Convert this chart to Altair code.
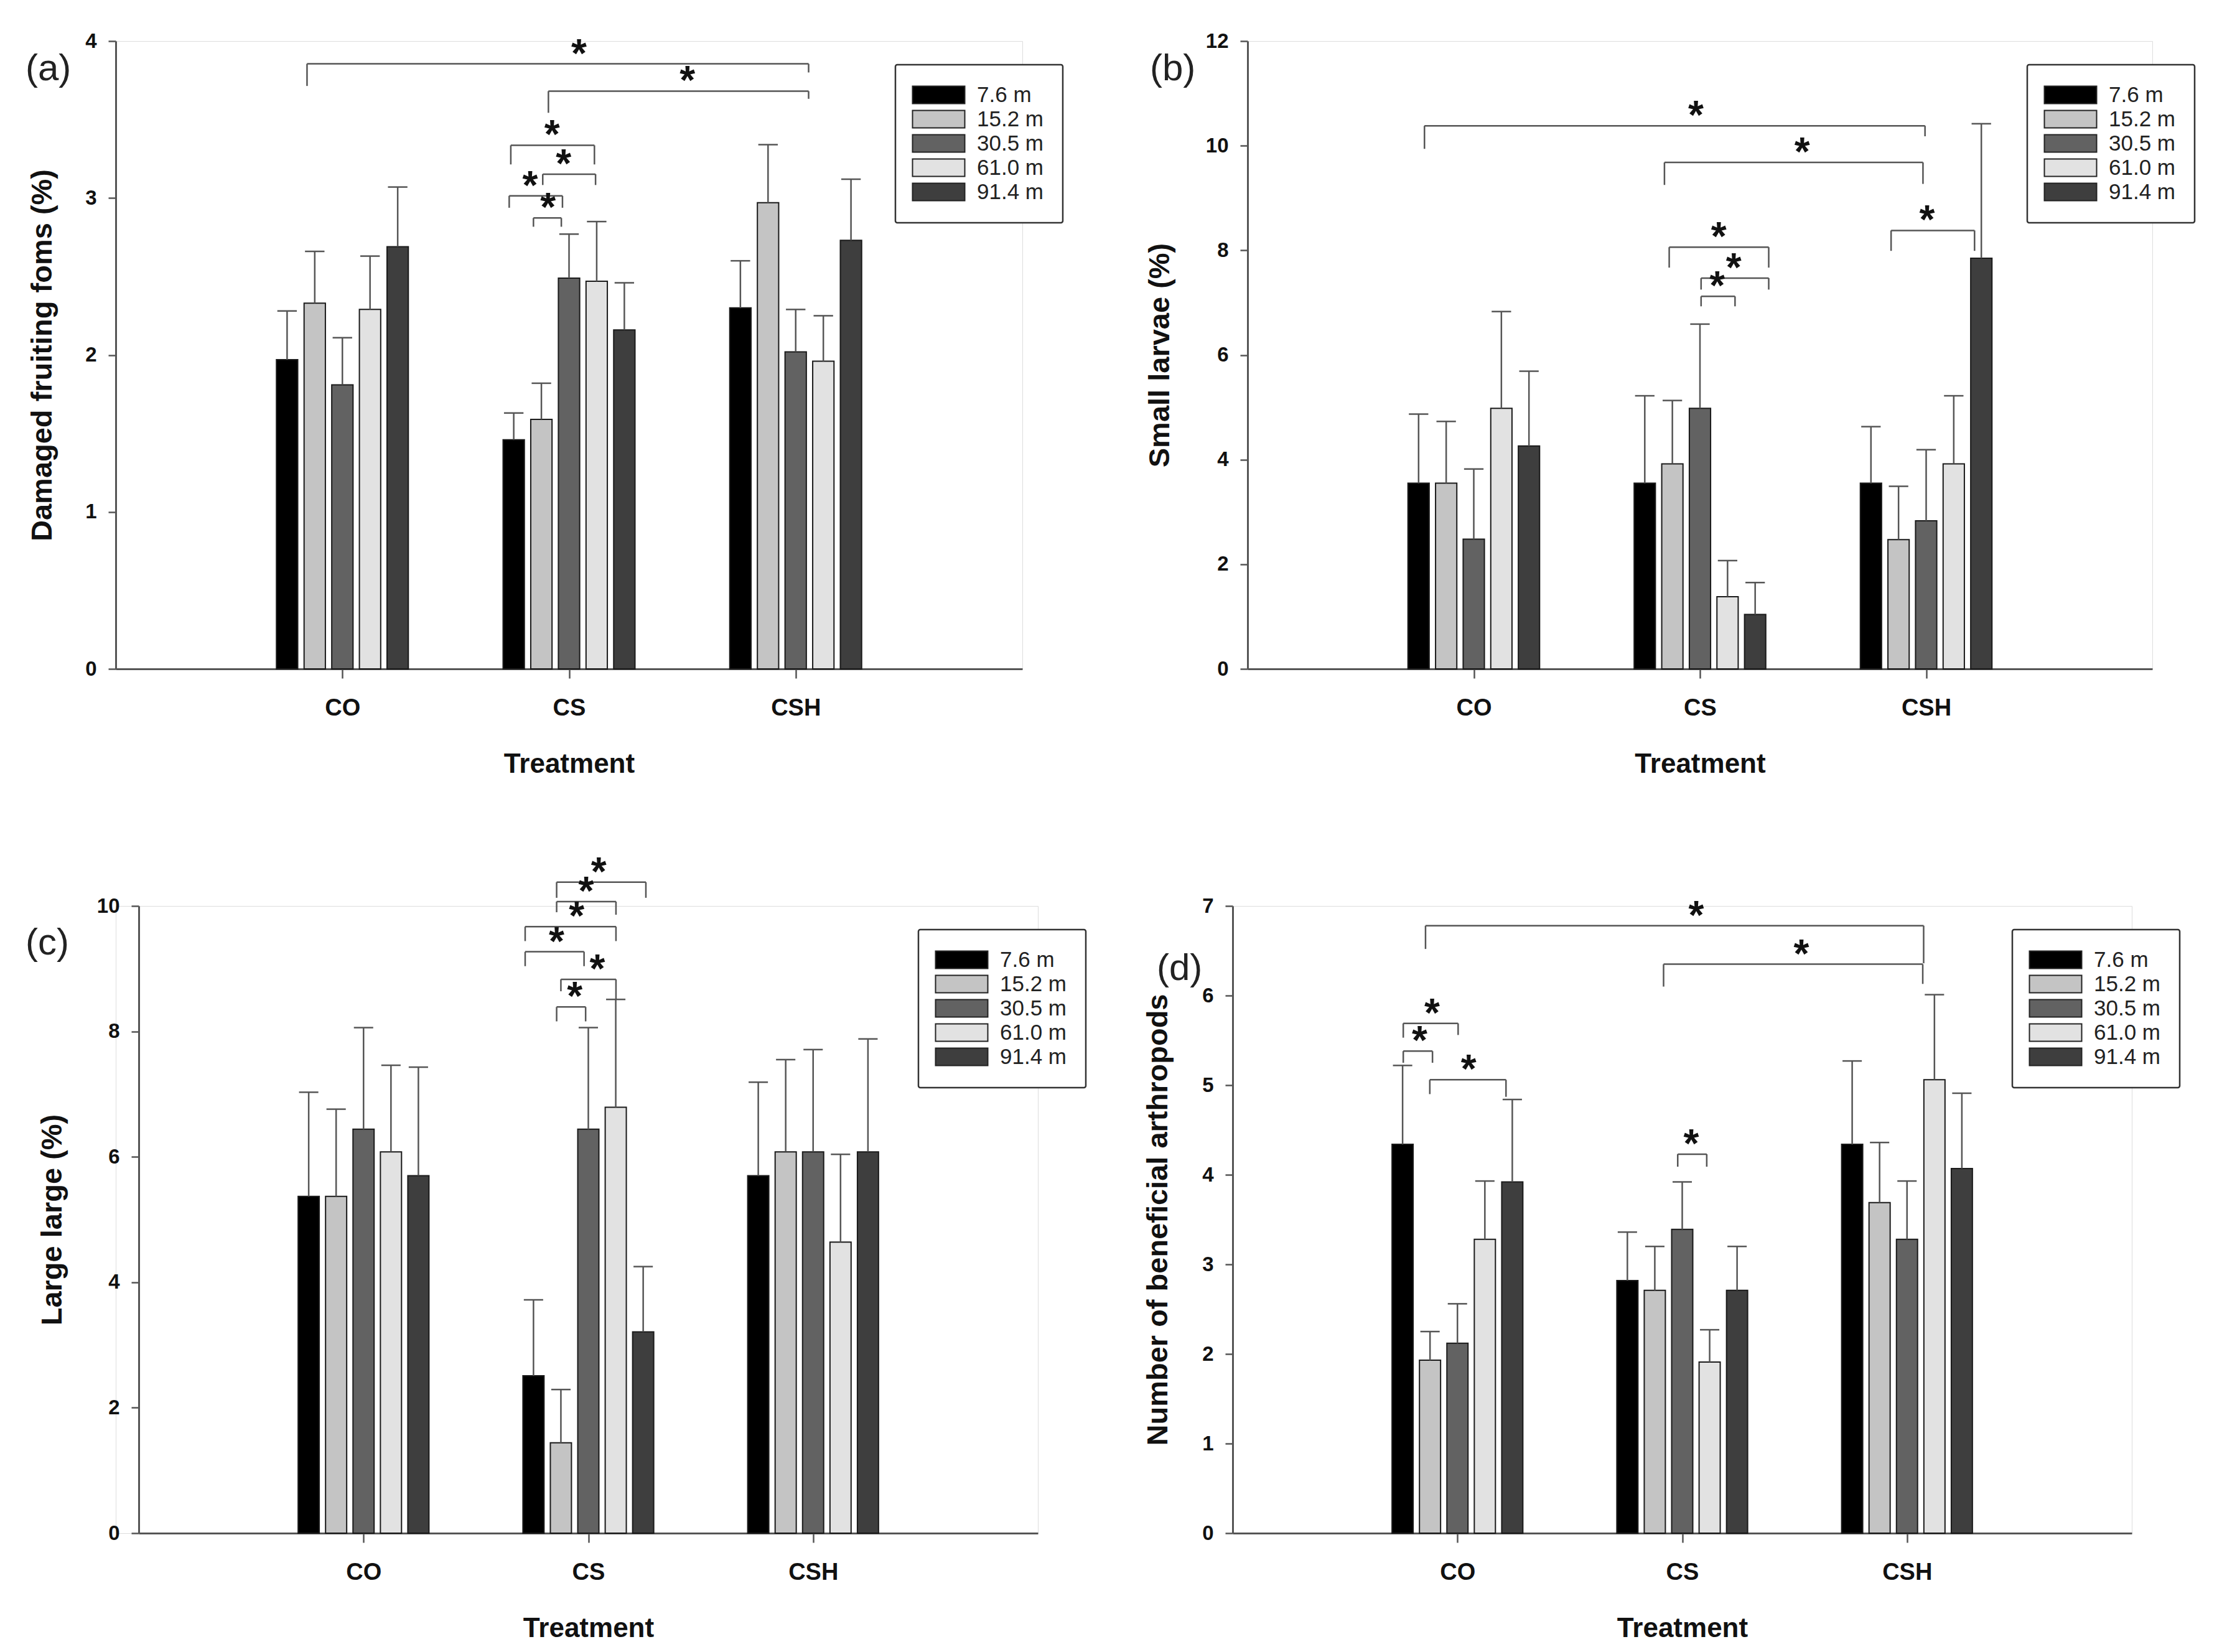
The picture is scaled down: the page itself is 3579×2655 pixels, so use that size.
import altair as alt
import pandas as pd

FONT = "Liberation Sans"
AXC = "#555555"

TREATMENTS = ["CO", "CS", "CSH"]
DISTANCES = ["7.6 m", "15.2 m", "30.5 m", "61.0 m", "91.4 m"]
FILLS = ["#000000", "#c4c4c4", "#626262", "#e2e2e2", "#3e3e3e"]

# (a) Damaged fruiting forms: rows = treatments, columns = distances
A_MEAN = [[1.97, 2.33, 1.81, 2.29, 2.69], [1.46, 1.59, 2.49, 2.47, 2.16], [2.30, 2.97, 2.02, 1.96, 2.73]]
A_UPPER = [[2.28, 2.66, 2.11, 2.63, 3.07], [1.63, 1.82, 2.77, 2.85, 2.46], [2.60, 3.34, 2.29, 2.25, 3.12]]
# brackets: (x left, x right, y, left leg end, right leg end, star x)
A_BRACKETS = [
    (0.844, 3.057, 3.855, 3.714, 3.800, 2.044),
    (1.909, 3.057, 3.681, 3.543, 3.632, 2.522),
    (1.743, 2.112, 3.336, 3.214, 3.214, 1.925),
    (1.884, 2.117, 3.152, 3.083, 3.083, 1.976),
    (1.736, 1.971, 3.014, 2.938, 2.938, 1.828),
    (1.843, 1.966, 2.873, 2.817, 2.817, 1.907),
]

# (b) Small larvae
B_MEAN = [[3.55, 3.55, 2.48, 4.98, 4.26], [3.55, 3.92, 4.98, 1.38, 1.04], [3.55, 2.47, 2.83, 3.92, 7.85]]
B_UPPER = [[4.87, 4.73, 3.82, 6.83, 5.69], [5.22, 5.13, 6.59, 2.07, 1.65], [4.63, 3.49, 4.19, 5.22, 10.42]]
B_BRACKETS = [
    (0.782, 2.995, 10.38, 9.94, 10.18, 1.982),
    (1.843, 2.986, 9.68, 9.25, 9.27, 2.452),
    (1.864, 2.304, 8.06, 7.67, 7.67, 2.083),
    (2.005, 2.304, 7.47, 7.25, 7.25, 2.149),
    (2.005, 2.155, 7.12, 6.93, 6.93, 2.076),
    (2.845, 3.214, 8.38, 7.99, 7.99, 3.004),
]

# (c) Large larvae
C_MEAN = [[5.37, 5.37, 6.44, 6.08, 5.70], [2.51, 1.44, 6.44, 6.79, 3.21], [5.70, 6.08, 6.08, 4.64, 6.08]]
C_UPPER = [[7.03, 6.76, 8.06, 7.46, 7.43], [3.72, 2.29, 8.06, 8.51, 4.25], [7.19, 7.55, 7.71, 6.04, 7.88]]
C_BRACKETS = [
    (1.859, 2.256, 10.38, 10.13, 10.13, 2.046),
    (1.859, 2.123, 10.07, 9.90, 9.86, 1.990),
    (1.719, 2.123, 9.67, 9.44, 9.44, 1.948),
    (1.719, 1.981, 9.27, 9.04, 9.04, 1.859),
    (1.878, 2.123, 8.83, 8.64, 8.51, 2.040),
    (1.859, 1.988, 8.39, 8.16, 8.16, 1.940),
]

# (d) Beneficial arthropods
D_MEAN = [[4.34, 1.93, 2.12, 3.28, 3.92], [2.82, 2.71, 3.39, 1.91, 2.71], [4.34, 3.69, 3.28, 5.06, 4.07]]
D_UPPER = [[5.22, 2.25, 2.56, 3.93, 4.84], [3.36, 3.20, 3.92, 2.27, 3.20], [5.27, 4.36, 3.93, 6.01, 4.91]]
D_BRACKETS = [
    (0.858, 3.074, 6.78, 6.52, 6.36, 2.062),
    (1.917, 3.070, 6.35, 6.10, 6.13, 2.530),
    (0.759, 1.003, 5.69, 5.53, 5.56, 0.887),
    (0.759, 0.889, 5.38, 5.25, 5.25, 0.832),
    (0.877, 1.216, 5.06, 4.90, 4.87, 1.050),
    (1.980, 2.109, 4.23, 4.09, 4.09, 2.040),
]

BAR_STEP = 0.122
BAR_W = 0.094
CAP_W = 0.086
LABEL_EXPR = "[" + ",".join("'%s'" % t for t in TREATMENTS) + "][datum.value - 1]"


def make_panel(tag, ytitle, ymax, ystep, means, uppers, brackets, width, height,
               ytitle_x, tag_x, tag_y, xoff=0):
    rows = []
    for ti, t in enumerate(TREATMENTS):
        for j, d in enumerate(DISTANCES):
            c = ti + 1 + (j - 2) * BAR_STEP
            rows.append({
                "treatment": t, "distance": d,
                "mean": means[ti][j], "upper": uppers[ti][j],
                "xc": c, "bx0": c - BAR_W / 2, "bx1": c + BAR_W / 2,
                "cx0": c - CAP_W / 2, "cx1": c + CAP_W / 2, "base": 0.0,
            })
    bdf = pd.DataFrame(rows)
    rdf = pd.DataFrame(brackets, columns=["x1", "x2", "y", "leg1", "leg2", "sx"])

    if xoff:
        xs = alt.Scale(domain=[0, 4], nice=False, zero=False, range=[xoff, xoff + width])
    else:
        xs = alt.Scale(domain=[0, 4], nice=False, zero=False)
    ys = alt.Scale(domain=[0, ymax], nice=False, zero=True)

    x_axis = alt.Axis(
        title="Treatment", values=[1, 2, 3], labelExpr=LABEL_EXPR, grid=False,
        tickSize=15, tickWidth=2.5, tickColor=AXC, domainColor=AXC, domainWidth=3,
        labelFont=FONT, labelFontSize=38, labelFontWeight="bold", labelColor="#111111",
        labelPadding=29, labelFlush=False, labelAngle=0,
        titleFont=FONT, titleFontSize=44, titleFontWeight="bold", titleColor="#111111",
        titleX=xoff + width / 2, titleY=166, titleAlign="center", titleBaseline="alphabetic",
    )
    y_axis = alt.Axis(
        title=ytitle, values=list(range(0, ymax + 1, ystep)), grid=False,
        tickSize=12, tickWidth=2.5, tickColor=AXC, domainColor=AXC, domainWidth=3,
        labelFont=FONT, labelFontSize=33, labelFontWeight="bold", labelColor="#111111",
        labelPadding=19, labelFlush=False, labelOverlap=False,
        titleFont=FONT, titleFontSize=47, titleFontWeight="bold", titleColor="#111111",
        titleAngle=270, titleAlign="center", titleBaseline="alphabetic",
        titleX=ytitle_x, titleY=height / 2, offset=-xoff,
    )
    legend = alt.Legend(
        title=None, orient="none", legendX=1253 + xoff, legendY=38, padding=31, rowPadding=2,
        symbolType="M-3,-1H3V1H-3Z", symbolSize=784, symbolStrokeColor="#222222",
        symbolStrokeWidth=2, symbolOffset=21, labelOffset=44,
        labelFont=FONT, labelFontSize=35, labelColor="#222222", labelLimit=0,
        strokeColor="#333333", fillColor="#ffffff", cornerRadius=3,
    )

    def X(field):
        return alt.X(field, type="quantitative", scale=xs, axis=x_axis)

    def Y(field):
        return alt.Y(field, type="quantitative", scale=ys, axis=y_axis)

    bars = alt.Chart(bdf).mark_rect(stroke="#1a1a1a", strokeWidth=2).encode(
        x=X("bx0"),
        x2=alt.X2("bx1"),
        y=Y("mean"),
        y2=alt.Y2("base"),
        fill=alt.Fill("distance:N", scale=alt.Scale(domain=DISTANCES, range=FILLS), legend=legend),
    )
    err = alt.Chart(bdf).mark_rule(color=AXC, strokeWidth=2.5).encode(
        x=X("xc"), y=Y("mean"), y2=alt.Y2("upper"),
    )
    cap = alt.Chart(bdf).mark_rule(color=AXC, strokeWidth=2.5).encode(
        x=X("cx0"), x2=alt.X2("cx1"), y=Y("upper"),
    )
    hline = alt.Chart(rdf).mark_rule(color=AXC, strokeWidth=2.5).encode(
        x=X("x1"), x2=alt.X2("x2"), y=Y("y"),
    )
    leg_l = alt.Chart(rdf).mark_rule(color=AXC, strokeWidth=2.5).encode(
        x=X("x1"), y=Y("y"), y2=alt.Y2("leg1"),
    )
    leg_r = alt.Chart(rdf).mark_rule(color=AXC, strokeWidth=2.5).encode(
        x=X("x2"), y=Y("y"), y2=alt.Y2("leg2"),
    )
    stars = alt.Chart(rdf).mark_text(
        text="*", font=FONT, fontWeight="bold", fontSize=64, dy=5,
        color="#111111", align="center", baseline="alphabetic",
    ).encode(x=X("sx"), y=Y("y"))
    lab = alt.Chart(pd.DataFrame({"tag": [tag]})).mark_text(
        font=FONT, fontSize=60, color="#222222", align="left", baseline="alphabetic",
    ).encode(text="tag:N", x=alt.value(tag_x + xoff), y=alt.value(tag_y))

    return alt.layer(bars, err, cap, hline, leg_l, leg_r, stars, lab).properties(
        width=width + xoff, height=height
    )


pa = make_panel("(a)", "Damaged fruiting foms (%)", 4, 1, A_MEAN, A_UPPER, A_BRACKETS,
                1457, 1009, -104, -145, 63)
pb = make_panel("(b)", "Small larvae (%)", 12, 2, B_MEAN, B_UPPER, B_BRACKETS,
                1454, 1009, -127, -157, 63)
pc = make_panel("(c)", "Large large (%)", 10, 2, C_MEAN, C_UPPER, C_BRACKETS,
                1445, 1008, -125, -182, 78, xoff=37)
pd_ = make_panel("(d)", "Number of beneficial arthropods", 7, 1, D_MEAN, D_UPPER, D_BRACKETS,
                 1445, 1008, -106, -122, 119)


def res(ch):
    return ch.resolve_scale(x="independent", y="independent", fill="independent").resolve_legend(
        fill="independent")


row1 = res(alt.hconcat(pa, pb, spacing=362, bounds="flush"))
row2 = res(alt.hconcat(pc, pd_, spacing=313, bounds="flush"))
base = res(alt.vconcat(row1, row2, spacing=120)).properties(
    padding={"left": 32, "top": 41, "right": 10, "bottom": 10}
)


def finish(ch, sw):
    ch = ch.configure_view(stroke="transparent", strokeWidth=0).configure(font=FONT)
    if sw:
        ch = ch.configure_legend(strokeWidth=2.5)
    return ch


try:
    chart = finish(base, True)
    chart.save("out.html", embed_options={"renderer": "svg", "actions": False})
except Exception:
    chart = finish(base, False)
    chart.save("out.html", embed_options={"renderer": "svg", "actions": False})
